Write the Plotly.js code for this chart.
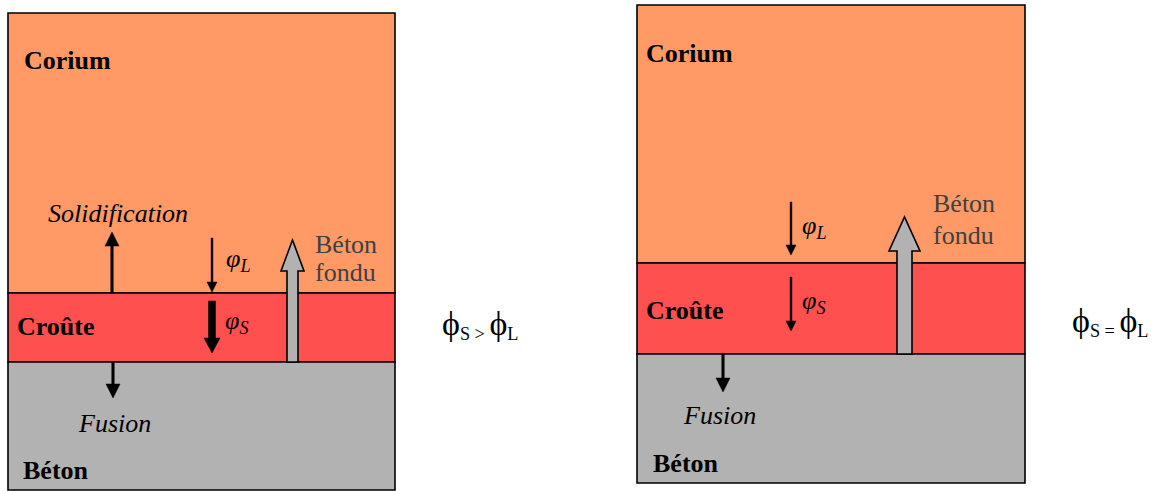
<!DOCTYPE html>
<html>
<head>
<meta charset="utf-8">
<script src="https://cdn.plot.ly/plotly-3.0.1.min.js"></script>
<style>html,body{margin:0;padding:0;background:#fff;}#chart{width:1165px;height:491px;}</style>
</head>
<body>
<div id="chart"></div>
<script>
// ---- data ----
const layerNames = ['Corium', 'Croûte', 'Béton'];
const processLabels = ['Solidification', 'Fusion'];
const fluxSymbol = 'φ';
const fluxSubs = ['L', 'S'];
const meltLabel = ['Béton', 'fondu'];
const eqSymbol = 'ϕ';
const eqRelations = ['>', '='];
// layer boundaries (top of corium, corium/croûte, croûte/béton, bottom) per case
const boundsLeft = [13, 293, 362, 490];
const boundsRight = [5, 263, 354, 483];

// ---- styling / geometry ----
const layerColors = ['#FF9966', '#FF5050', '#B2B2B2'];
const serif = '"Liberation Serif", "Times New Roman", serif';
const FS = 26;
const DX = -2;
const panels = [
  { x0: 8, x1: 395, b: boundsLeft,
    labels: { corium: [24, 60], croute: [17, 326], beton: [23, 470] },
    solid: { x: 112, label: [48, 213] },
    fusion: { x: 113, tip: 398, label: [78, 423] },
    phiL: { x: 212, tail: 238, tip: 292, label: [226, 260] },
    phiS: { x: 212, tail: 301, tip: 353, thick: true, label: [225, 322] },
    melt: { x: 292.5, tip: 240, shaft: 11, head: 23, headL: 31, label: [315, 244, 272] },
    eq: [442, 324] },
  { x0: 637, x1: 1025, b: boundsRight,
    labels: { corium: [646, 53], croute: [646, 310], beton: [653, 463] },
    solid: null,
    fusion: { x: 723, tip: 392, label: [683, 415] },
    phiL: { x: 791, tail: 202, tip: 255, label: [802, 227] },
    phiS: { x: 791, tail: 277, tip: 331, thick: false, label: [802, 302] },
    melt: { x: 904.5, tip: 217, shaft: 15, head: 31, headL: 34, label: [933, 203, 235] },
    eq: [1072, 321] }
];

const shapes = [];
const annotations = [];

function rect(x0, x1, y0, y1, fill) {
  shapes.push({ type: 'rect', xref: 'x', yref: 'y', x0, x1, y0, y1,
    fillcolor: fill, line: { color: '#000', width: 1.6 }, layer: 'below' });
}
// vertical arrow: tail y0, tip y1
function arrow(x, y0, y1, shaftW, headW, headL, fill, outline) {
  const dir = y1 > y0 ? 1 : -1;
  const yb = y1 - dir * headL;
  const s = shaftW / 2, h = headW / 2;
  const p = `M${x - s},${y0} L${x - s},${yb} L${x - h},${yb} L${x},${y1} L${x + h},${yb} L${x + s},${yb} L${x + s},${y0} Z`;
  shapes.push({ type: 'path', xref: 'x', yref: 'y', path: p, fillcolor: fill,
    line: { color: outline || fill, width: outline ? 1.6 : 0.5 } });
}
function text(t, x, y, color, size) {
  annotations.push({ text: t, x: x + DX, y, xref: 'x', yref: 'y', xanchor: 'left', yanchor: 'middle',
    showarrow: false, font: { family: serif, size: size || FS, color: color || '#000' } });
}
const big = s => '<span style="font-size:34px">' + s + '</span>';

panels.forEach((p, i) => {
  const b = p.b;
  for (let k = 0; k < 3; k++) rect(p.x0, p.x1, b[k], b[k + 1], layerColors[k]);
  text('<b>' + layerNames[0] + '</b>', p.labels.corium[0], p.labels.corium[1]);
  text('<b>' + layerNames[1] + '</b>', p.labels.croute[0], p.labels.croute[1]);
  text('<b>' + layerNames[2] + '</b>', p.labels.beton[0], p.labels.beton[1]);
  if (p.solid) {
    arrow(p.solid.x, b[1], 232, 2.5, 14, 14, '#000');
    text('<i>' + processLabels[0] + '</i>', p.solid.label[0], p.solid.label[1]);
  }
  arrow(p.fusion.x, b[2], p.fusion.tip, 2.5, 14, 14, '#000');
  text('<i>' + processLabels[1] + '</i>', p.fusion.label[0], p.fusion.label[1]);
  arrow(p.phiL.x, p.phiL.tail, p.phiL.tip, 1.8, 10, 10, '#000');
  text('<i>' + fluxSymbol + '<sub>' + fluxSubs[0] + '</sub></i>', p.phiL.label[0], p.phiL.label[1]);
  if (p.phiS.thick) arrow(p.phiS.x, p.phiS.tail, p.phiS.tip, 7, 16, 15, '#000');
  else arrow(p.phiS.x, p.phiS.tail, p.phiS.tip, 1.8, 10, 10, '#000');
  text('<i>' + fluxSymbol + '<sub>' + fluxSubs[1] + '</sub></i>', p.phiS.label[0], p.phiS.label[1]);
  arrow(p.melt.x, b[2], p.melt.tip, p.melt.shaft, p.melt.head, p.melt.headL, '#B2B2B2', '#000');
  text(meltLabel[0], p.melt.label[0], p.melt.label[1], '#404040');
  text(meltLabel[1], p.melt.label[0], p.melt.label[2], '#404040');
  const eq = big(eqSymbol) + '<sub>' + fluxSubs[1] + ' ' + eqRelations[i] + ' </sub>' + big(eqSymbol) + '<sub>' + fluxSubs[0] + '</sub>';
  text(eq, p.eq[0], p.eq[1], '#000', 26);
});

const layout = {
  width: 1165, height: 491,
  margin: { l: 0, r: 0, t: 0, b: 0 },
  paper_bgcolor: '#fff', plot_bgcolor: '#fff',
  showlegend: false,
  font: { family: serif },
  xaxis: { range: [0, 1165], visible: false, fixedrange: true },
  yaxis: { range: [491, 0], visible: false, fixedrange: true },
  shapes, annotations
};
Plotly.newPlot('chart', [{ x: [0], y: [0], mode: 'markers', marker: { opacity: 0 }, hoverinfo: 'skip' }], layout, { staticPlot: true });
</script>
</body>
</html>
